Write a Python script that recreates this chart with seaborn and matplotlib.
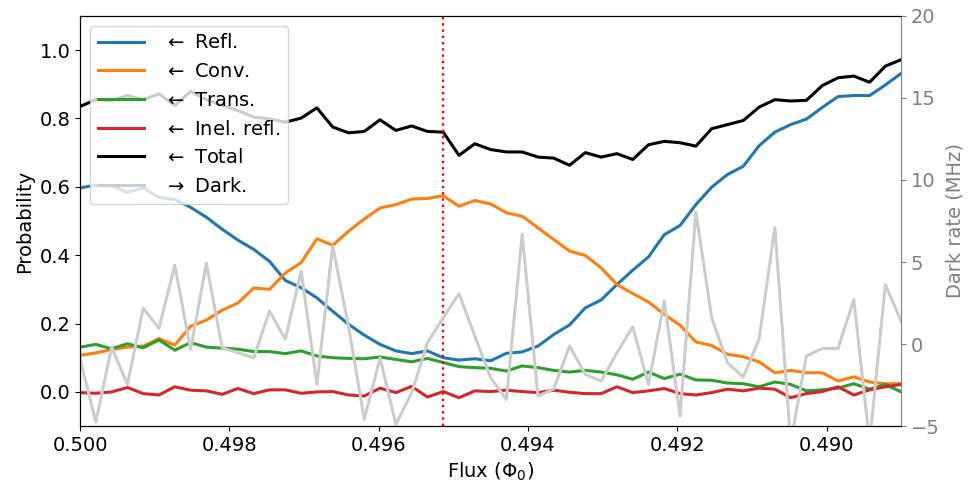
import numpy as np
import pandas as pd
import matplotlib
matplotlib.use("Agg")
import matplotlib.pyplot as plt
import seaborn as sns

# Flux sweep (units of the flux quantum), swept downward from 0.500
flux = np.linspace(0.500, 0.489, 53)
flux_op = 0.49514  # operating point marked with the dotted line

refl = [0.597, 0.605, 0.603, 0.584, 0.597, 0.569, 0.563, 0.540, 0.511, 0.476,
        0.444, 0.417, 0.382, 0.326, 0.305, 0.275, 0.236, 0.198, 0.166, 0.139,
        0.120, 0.112, 0.120, 0.100, 0.093, 0.097, 0.091, 0.113, 0.117, 0.134,
        0.168, 0.196, 0.246, 0.269, 0.314, 0.356, 0.395, 0.460, 0.487, 0.548,
        0.599, 0.636, 0.660, 0.720, 0.760, 0.782, 0.798, 0.832, 0.864, 0.867,
        0.867, 0.898, 0.932]
conv = [0.107, 0.114, 0.124, 0.131, 0.134, 0.156, 0.137, 0.192, 0.210, 0.239,
        0.260, 0.304, 0.300, 0.348, 0.378, 0.448, 0.429, 0.470, 0.506, 0.538,
        0.548, 0.564, 0.566, 0.574, 0.543, 0.560, 0.550, 0.524, 0.514, 0.480,
        0.446, 0.412, 0.399, 0.363, 0.314, 0.288, 0.263, 0.227, 0.195, 0.146,
        0.136, 0.110, 0.103, 0.088, 0.056, 0.063, 0.056, 0.056, 0.032, 0.044,
        0.029, 0.024, 0.024]
trans = [0.131, 0.139, 0.126, 0.141, 0.129, 0.152, 0.122, 0.144, 0.131, 0.128,
         0.125, 0.118, 0.118, 0.112, 0.120, 0.105, 0.100, 0.098, 0.097, 0.102,
         0.095, 0.088, 0.098, 0.086, 0.074, 0.071, 0.069, 0.061, 0.076, 0.071,
         0.063, 0.058, 0.063, 0.058, 0.050, 0.037, 0.058, 0.039, 0.052, 0.035,
         0.034, 0.026, 0.024, 0.015, 0.029, 0.022, 0.003, 0.006, 0.011, 0.024,
         0.008, 0.022, 0.000]
inel = [-0.002, -0.004, 0.000, 0.013, -0.005, -0.009, 0.015, 0.005, 0.003, -0.007,
        0.010, -0.005, 0.006, 0.006, -0.004, 0.000, 0.001, -0.009, -0.012, 0.011,
        -0.002, 0.016, -0.015, 0.001, -0.017, 0.003, 0.001, 0.005, 0.001, -0.002,
        0.005, -0.001, -0.005, -0.005, 0.015, -0.002, 0.003, 0.010, -0.005, -0.009,
        -0.002, 0.008, 0.003, 0.011, 0.008, -0.017, -0.005, 0.001, 0.015, -0.009,
        0.006, 0.015, 0.022]
total = [0.835, 0.855, 0.853, 0.867, 0.855, 0.872, 0.838, 0.879, 0.855, 0.838,
         0.823, 0.804, 0.799, 0.789, 0.801, 0.831, 0.775, 0.758, 0.762, 0.796,
         0.765, 0.778, 0.762, 0.760, 0.692, 0.726, 0.709, 0.702, 0.702, 0.687,
         0.684, 0.663, 0.700, 0.687, 0.697, 0.680, 0.723, 0.733, 0.729, 0.719,
         0.770, 0.782, 0.794, 0.833, 0.855, 0.851, 0.853, 0.896, 0.919, 0.924,
         0.906, 0.953, 0.972]
dark = [-0.90, -4.76, -0.18, -2.46, 2.18, 0.96, 4.80, -0.32, 4.92, -0.23,
        -0.53, -0.84, 2.01, 0.29, 4.45, -2.46, 5.98, 1.10, -4.59, -0.84,
        -4.90, -2.97, 0.08, 1.60, 3.07, 0.49, -2.05, -3.37, 6.69, -3.17,
        -2.73, -0.12, -1.85, -2.26, -0.53, 1.05, -2.46, 2.62, -4.39, 8.05,
        1.60, -1.14, -2.01, 0.29, 7.09, -6.00, -0.73, -0.27, -0.27, 2.71,
        -6.00, 3.62, 1.38]

x_ticks = [0.500, 0.498, 0.496, 0.494, 0.492, 0.490]
y_ticks = [0.0, 0.2, 0.4, 0.6, 0.8, 1.0]
dark_ticks = [-5, 0, 5, 10, 15, 20]

df = pd.DataFrame({"flux": flux, "refl": refl, "conv": conv, "trans": trans,
                   "inel": inel, "total": total, "dark": dark})

# arrows tell which y axis each curve belongs to
prob_series = [
    ("refl", r"$\leftarrow$ Refl.", "tab:blue"),
    ("conv", r"$\leftarrow$ Conv.", "tab:orange"),
    ("trans", r"$\leftarrow$ Trans.", "tab:green"),
    ("inel", r"$\leftarrow$ Inel. refl.", "tab:red"),
    ("total", r"$\leftarrow$ Total", "black"),
]

plt.rcParams.update({"font.size": 14, "font.family": ["DejaVu Sans"]})

fig, ax = plt.subplots(figsize=(9.69, 4.82), dpi=100)
fig.subplots_adjust(left=0.0826, right=0.930, top=0.967, bottom=0.116)
ax2 = ax.twinx()

for col, label, color in prob_series:
    sns.lineplot(data=df, x="flux", y=col, ax=ax, color=color, lw=2.2,
                 label=label, legend=False)

sns.lineplot(data=df, x="flux", y="dark", ax=ax2, color="0.8", lw=2.2,
             label=r"$\rightarrow$ Dark.", legend=False)

ax.axvline(flux_op, color="red", ls=":", lw=1.7)

ax.set_xlim(0.500, 0.489)
ax.set_ylim(-0.1, 1.1)
ax2.set_ylim(-5, 20)
ax.set_xticks(x_ticks)
ax.set_xticklabels([f"{t:.3f}" for t in x_ticks])
ax.set_yticks(y_ticks)
ax.set_yticklabels([f"{t:.1f}" for t in y_ticks])
ax2.set_yticks(dark_ticks)

ax.set_xlabel("Flux ($\\Phi_0$)")
ax.set_ylabel("Probability")
ax2.set_ylabel("Dark rate (MHz)", color="gray")
ax2.tick_params(axis="y", colors="gray")
ax.spines["right"].set_visible(False)
ax2.spines["right"].set_color("gray")

h1, l1 = ax.get_legend_handles_labels()
h2, l2 = ax2.get_legend_handles_labels()
ax2.legend(h1 + h2, l1 + l2, loc="upper left", handlelength=2.4,
           handletextpad=1.0)

fig.savefig("out.png", dpi=100)
